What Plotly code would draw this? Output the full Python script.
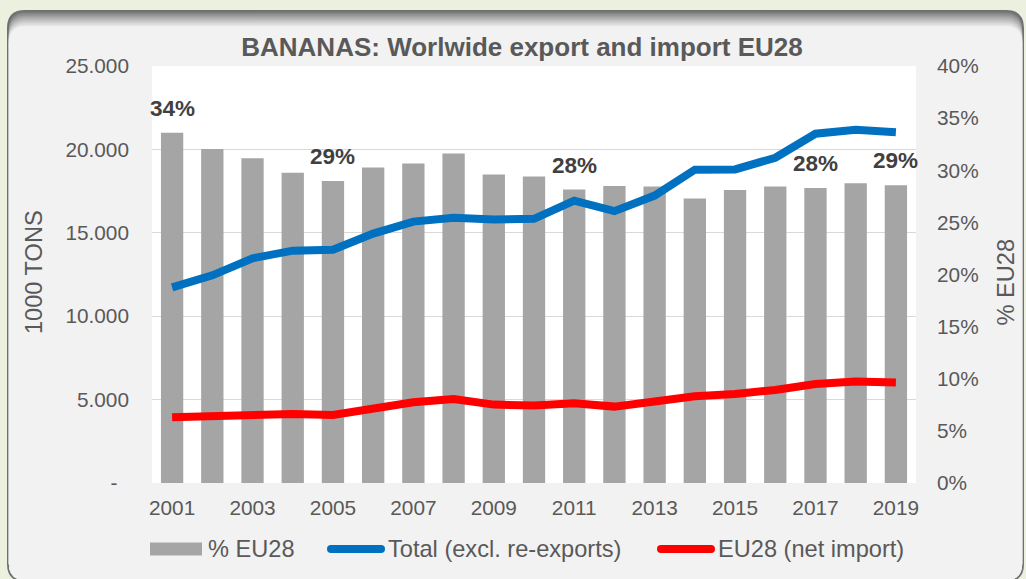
import plotly.graph_objects as go

# ---------------- data ----------------
years = [2001, 2002, 2003, 2004, 2005, 2006, 2007, 2008, 2009, 2010,
         2011, 2012, 2013, 2014, 2015, 2016, 2017, 2018, 2019]
pct_eu28 = [33.6, 32.05, 31.15, 29.75, 28.98, 30.26, 30.64, 31.6, 29.6, 29.4,
            28.15, 28.5, 28.45, 27.3, 28.1, 28.45, 28.3, 28.75, 28.55]
total_export = [11730, 12450, 13470, 13930, 13980, 14950, 15670, 15900, 15800, 15840,
                16930, 16300, 17230, 18780, 18800, 19500, 20940, 21180, 21030]
eu28_import = [3940, 4000, 4180, 4140, 4080, 4500, 4840, 5040, 4700, 4640,
               4780, 4580, 4940, 5200, 5340, 5580, 5940, 6080, 6020]
label_years = [2001, 2005, 2011, 2017, 2019]

x_tick_years = [2001, 2003, 2005, 2007, 2009, 2011, 2013, 2015, 2017, 2019]
tons_ticks = [0, 5000, 10000, 15000, 20000, 25000]
pct_ticks = [0, 5, 10, 15, 20, 25, 30, 35, 40]

title_text = "BANANAS: Worlwide export and import EU28"
series_names = ["% EU28", "Total (excl. re-exports)", "EU28 (net import)"]
left_title = "1000 TONS"
right_title = "% EU28"

# ---------------- styling ----------------
W, H = 1026, 579
ML, MR, MT, MB = 152, 110, 66, 96
PW, PH = W - ML - MR, H - MT - MB
FONT = "Liberation Sans, Arial, sans-serif"
TXT = "#595959"
BAR_C = "#A5A5A5"
BLUE = "#0070C0"
RED = "#FF0000"
GRID = "#D9D9D9"


def px(x):
    return (x - ML) / PW


def py(y):
    return (H - MB - y) / PH


def rrect(x0, y0, x1, y1, r):
    pts = [
        ("M", [(x0 + r, y0)]), ("L", [(x1 - r, y0)]), ("Q", [(x1, y0), (x1, y0 + r)]),
        ("L", [(x1, y1 - r)]), ("Q", [(x1, y1), (x1 - r, y1)]), ("L", [(x0 + r, y1)]),
        ("Q", [(x0, y1), (x0, y1 - r)]), ("L", [(x0, y0 + r)]), ("Q", [(x0, y0), (x0 + r, y0)]),
    ]
    s = ""
    for cmd, ps in pts:
        s += cmd + " ".join(f"{px(a):.5f},{py(b):.5f}" for a, b in ps) + " "
    return s + "Z"


def lerp_color(c1, c2, t):
    a = [int(c1[i:i + 2], 16) for i in (1, 3, 5)]
    b = [int(c2[i:i + 2], 16) for i in (1, 3, 5)]
    return "#" + "".join(f"{round(a[k] + (b[k] - a[k]) * t):02x}" for k in range(3))


shapes = []
# outer framed box with soft top shadow
BX0, BY0, BX1, BY1, R = 7, 10, 1024, 582, 18
shapes.append(dict(type="path", path=rrect(BX0, BY0, BX1, BY1, R), xref="paper", yref="paper",
                   fillcolor="#707070", line=dict(width=0), layer="below"))
N = 10
for i in range(N + 1):
    t = (i / N) ** 0.9
    col = lerp_color("#767676", "#F2F2F2", t)
    shapes.append(dict(type="path",
                       path=rrect(BX0 + 1.8, BY0 + 1.2 + i * 1.5, BX1 - 1.8, BY1 - 1.8, R - 1),
                       xref="paper", yref="paper", fillcolor=col, line=dict(width=0), layer="below"))
# white plot area
shapes.append(dict(type="rect", x0=0, x1=1, y0=0, y1=1, xref="paper", yref="paper",
                   fillcolor="white", line=dict(width=0), layer="below"))

# ---------------- traces ----------------
fig = go.Figure()
fig.add_trace(go.Bar(x=years, y=pct_eu28, name=series_names[0], marker=dict(color=BAR_C, line=dict(width=0)),
                     yaxis="y", showlegend=False, hoverinfo="x+y"))
fig.add_trace(go.Scatter(x=years, y=total_export, name=series_names[1], mode="lines",
                         line=dict(color=BLUE, width=8), yaxis="y2", showlegend=False))
fig.add_trace(go.Scatter(x=years, y=eu28_import, name=series_names[2], mode="lines",
                         line=dict(color=RED, width=8), yaxis="y2", showlegend=False))

annotations = []
# bar value labels
for yr, v in zip(years, pct_eu28):
    if yr in label_years:
        annotations.append(dict(x=yr, y=v, xref="x", yref="y", text=f"<b>{round(v)}%</b>",
                                showarrow=False, yshift=24.5, yanchor="middle", xanchor="center",
                                font=dict(family=FONT, size=22.5, color="#404040")))
# axis titles
annotations.append(dict(x=px(34), y=py(272), xref="paper", yref="paper", text=left_title, textangle=-90,
                        showarrow=False, xanchor="center", yanchor="middle",
                        font=dict(family=FONT, size=23.6, color=TXT)))
annotations.append(dict(x=px(1005.5), y=py(282), xref="paper", yref="paper", text=right_title, textangle=-90,
                        showarrow=False, xanchor="center", yanchor="middle",
                        font=dict(family=FONT, size=23.6, color=TXT)))

# manual legend (wide swatches like the original)
LEG_Y = 549
shapes.append(dict(type="rect", x0=px(150), x1=px(202), y0=py(LEG_Y - 6.5), y1=py(LEG_Y + 6.5),
                   xref="paper", yref="paper", fillcolor=BAR_C, line=dict(width=0)))
for (sx0, sx1, col) in [(327, 385, BLUE), (657, 715, RED)]:
    shapes.append(dict(type="line", x0=px(sx0 + 4), x1=px(sx1 - 4), y0=py(LEG_Y), y1=py(LEG_Y),
                       xref="paper", yref="paper", line=dict(color=col, width=8)))
    for cx in (sx0 + 4, sx1 - 4):
        shapes.append(dict(type="circle", x0=px(cx - 4), x1=px(cx + 4), y0=py(LEG_Y - 4), y1=py(LEG_Y + 4),
                           xref="paper", yref="paper", fillcolor=col, line=dict(width=0)))
for tx, name in zip([206, 386, 716], series_names):
    annotations.append(dict(x=px(tx), y=py(LEG_Y), xref="paper", yref="paper", text=name,
                            showarrow=False, xanchor="left", yanchor="middle",
                            font=dict(family=FONT, size=23.6, color=TXT)))


def fmt_tons(v):
    return "-\u00a0\u00a0" if v == 0 else f"{v:,}".replace(",", ".")


fig.update_layout(
    width=W, height=H,
    margin=dict(l=ML, r=MR, t=MT, b=MB, pad=0),
    paper_bgcolor="#EBF1DE",
    plot_bgcolor="rgba(0,0,0,0)",
    font=dict(family=FONT, color=TXT),
    title=dict(text=f"<b>{title_text}</b>", x=522 / W, xanchor="center", xref="container",
               y=1 - 47 / H, yanchor="middle", yref="container",
               font=dict(family=FONT, size=26, color=TXT)),
    bargap=0.445,
    showlegend=False,
    xaxis=dict(range=[2000.5, 2019.5], tickvals=x_tick_years, ticktext=[str(v) for v in x_tick_years],
               showgrid=False, zeroline=False, showline=False, ticks="",
               tickfont=dict(family=FONT, size=20.8, color=TXT), ticklabelstandoff=10),
    yaxis=dict(range=[0, 40], side="right", tickvals=pct_ticks, ticktext=[f"{v}%" for v in pct_ticks],
               showgrid=False, zeroline=False, showline=False, ticks="",
               tickfont=dict(family=FONT, size=20.8, color=TXT), ticklabelstandoff=20),
    yaxis2=dict(range=[0, 25000], side="left", overlaying="y", tickvals=tons_ticks,
                ticktext=[fmt_tons(v) for v in tons_ticks],
                showgrid=True, gridcolor=GRID, gridwidth=1.3, zeroline=False, showline=False, ticks="",
                tickfont=dict(family=FONT, size=20.8, color=TXT), ticklabelstandoff=22),
    shapes=shapes,
    annotations=annotations,
)

fig.write_html("out.html", config={"displayModeBar": False},
               post_script="document.body.style.margin='0';document.body.style.overflow='hidden';")
